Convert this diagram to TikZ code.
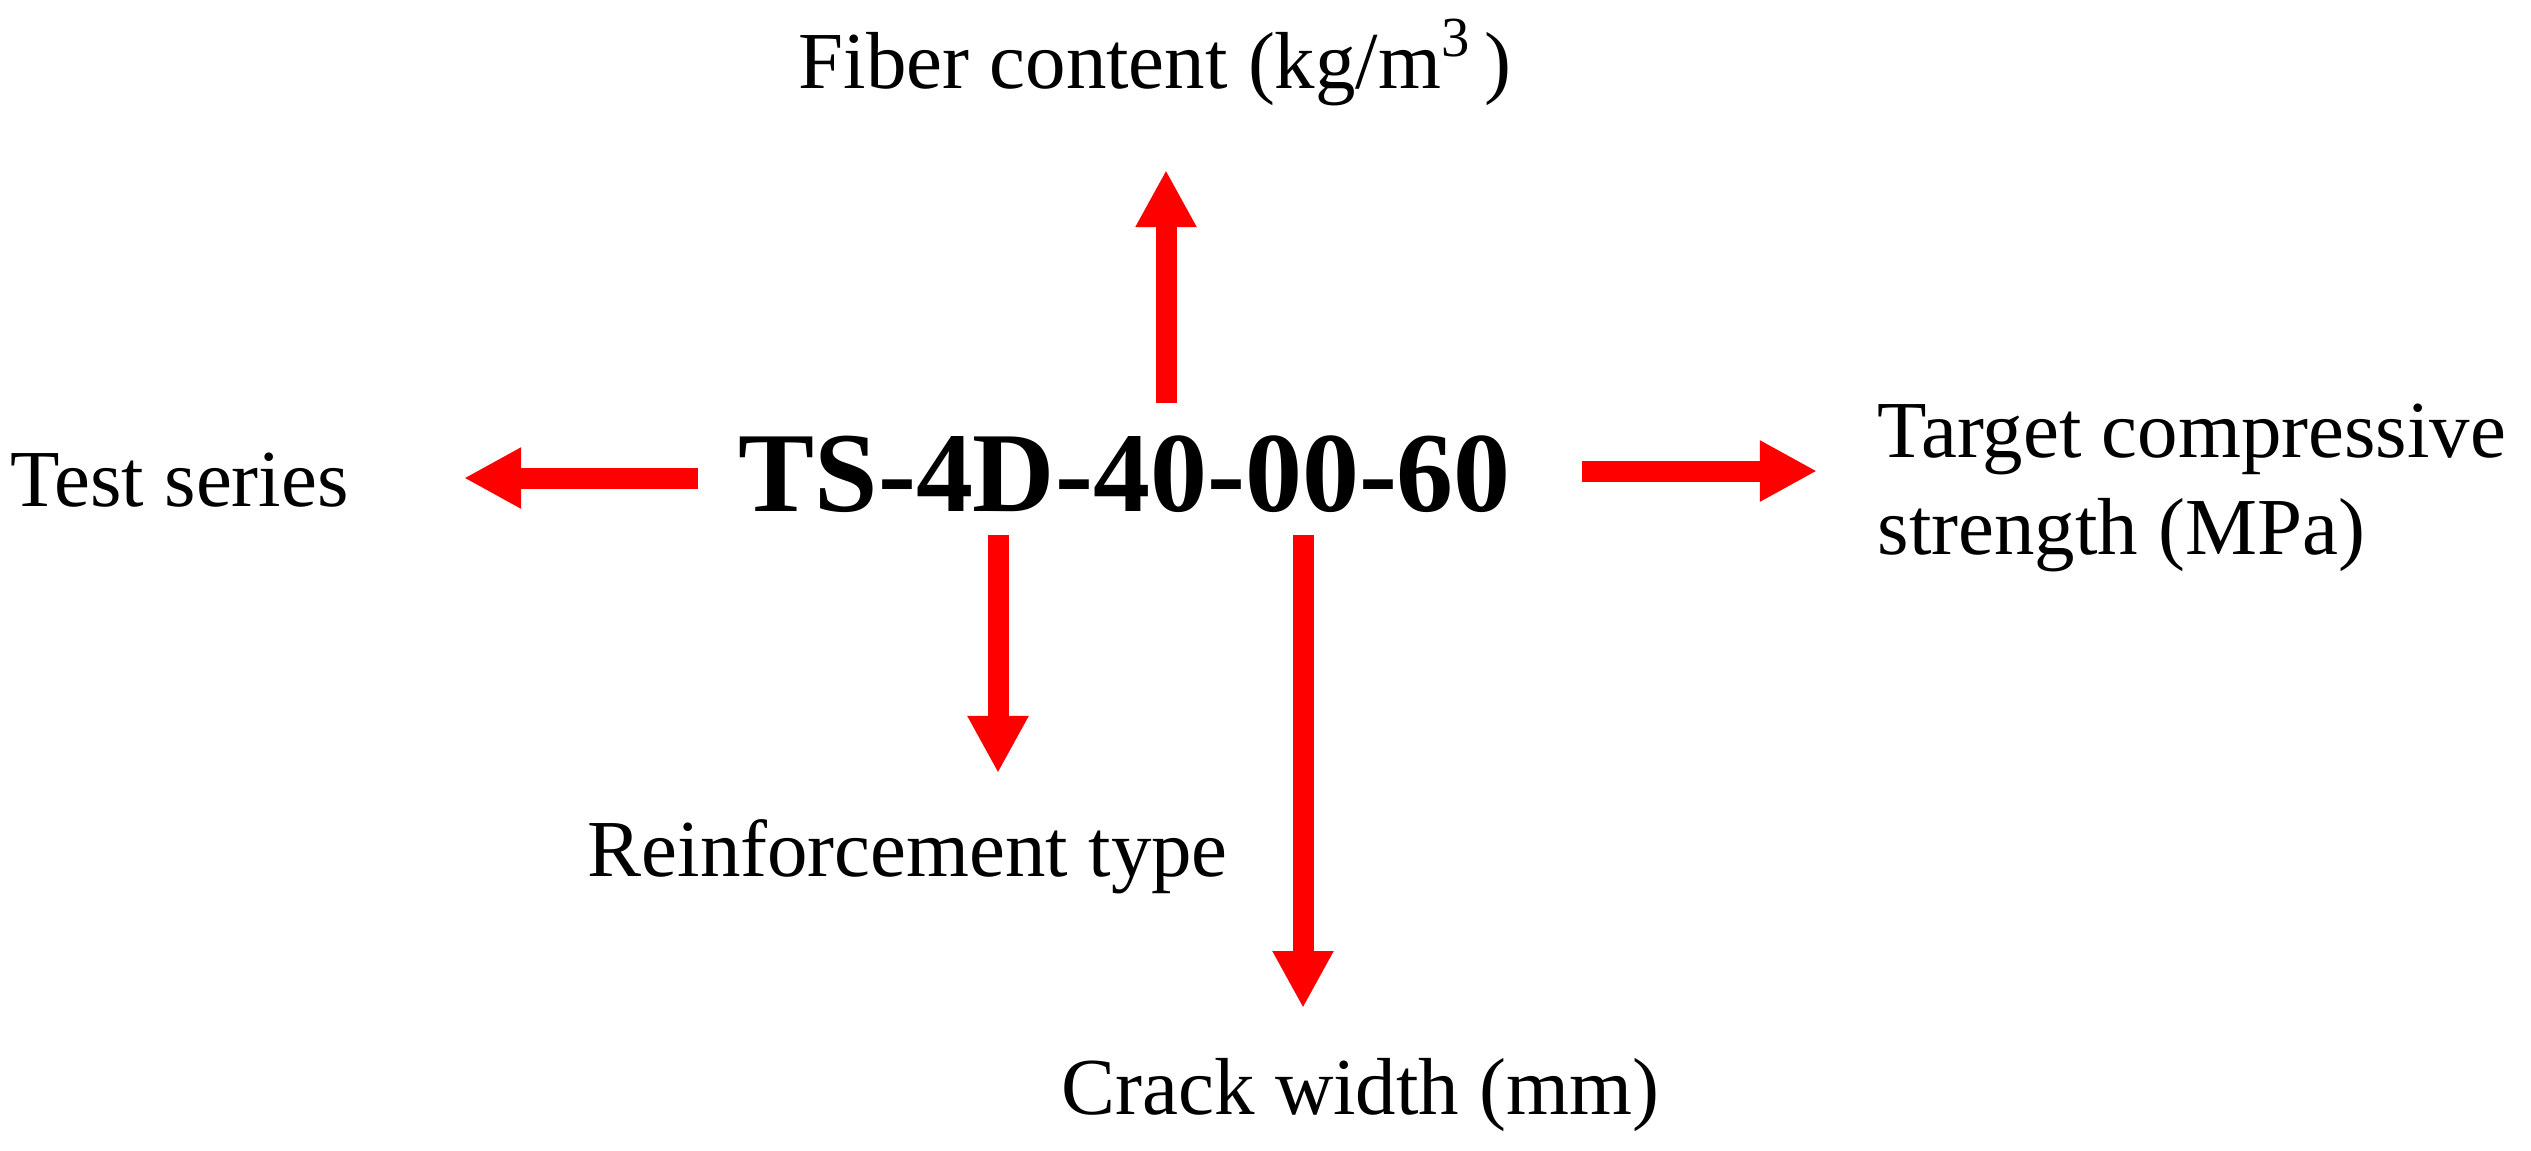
\documentclass[tikz,border=0pt]{standalone}
\usepackage{fontspec}
\setmainfont{Liberation Serif}
\usetikzlibrary{arrows.meta}
\begin{document}
\begin{tikzpicture}[x=0.01cm,y=-0.01cm,
  lbl/.style={inner sep=0pt, anchor=base west, font=\fontsize{23}{27.6}\selectfont},
  codelbl/.style={inner sep=0pt, anchor=base west, font=\fontsize{32.4}{38}\selectfont\bfseries},
  arr/.style={color=red, line width=0.21cm, -{Triangle[length=0.57cm,width=0.57cm]}}]
\useasboundingbox[fill=white] (0,0) rectangle (2531,1150);
% labels
\node[codelbl] (main) at (738,511) {TS-4D-40-00-60};
\node[lbl] (fiber) at (798,88) {Fiber content (kg/m\textsuperscript{3}\,)};
\node[lbl] (test) at (10,506) {Test series};
\node[lbl] (target) at (1877,457) {\begin{tabular}[t]{@{}l@{}}Target compressive\\strength (MPa)\end{tabular}};
\node[lbl] (reinf) at (587,876) {Reinforcement type};
\node[lbl] (crack) at (1061,1114) {Crack width (mm)};
% arrow end points
\coordinate (upS) at (1166,403);   \coordinate (upE) at (1166,170);
\coordinate (lfS) at (698,478);    \coordinate (lfE) at (464,478);
\coordinate (rtS) at (1582,471);   \coordinate (rtE) at (1817,471);
\coordinate (d1S) at (998,535);    \coordinate (d1E) at (998,773);
\coordinate (d2S) at (1303,535);   \coordinate (d2E) at (1303,1008);
% connectors
\draw[arr] (upS) -- (upE);
\draw[arr] (lfS) -- (lfE);
\draw[arr] (rtS) -- (rtE);
\draw[arr] (d1S) -- (d1E);
\draw[arr] (d2S) -- (d2E);
\end{tikzpicture}
\end{document}
